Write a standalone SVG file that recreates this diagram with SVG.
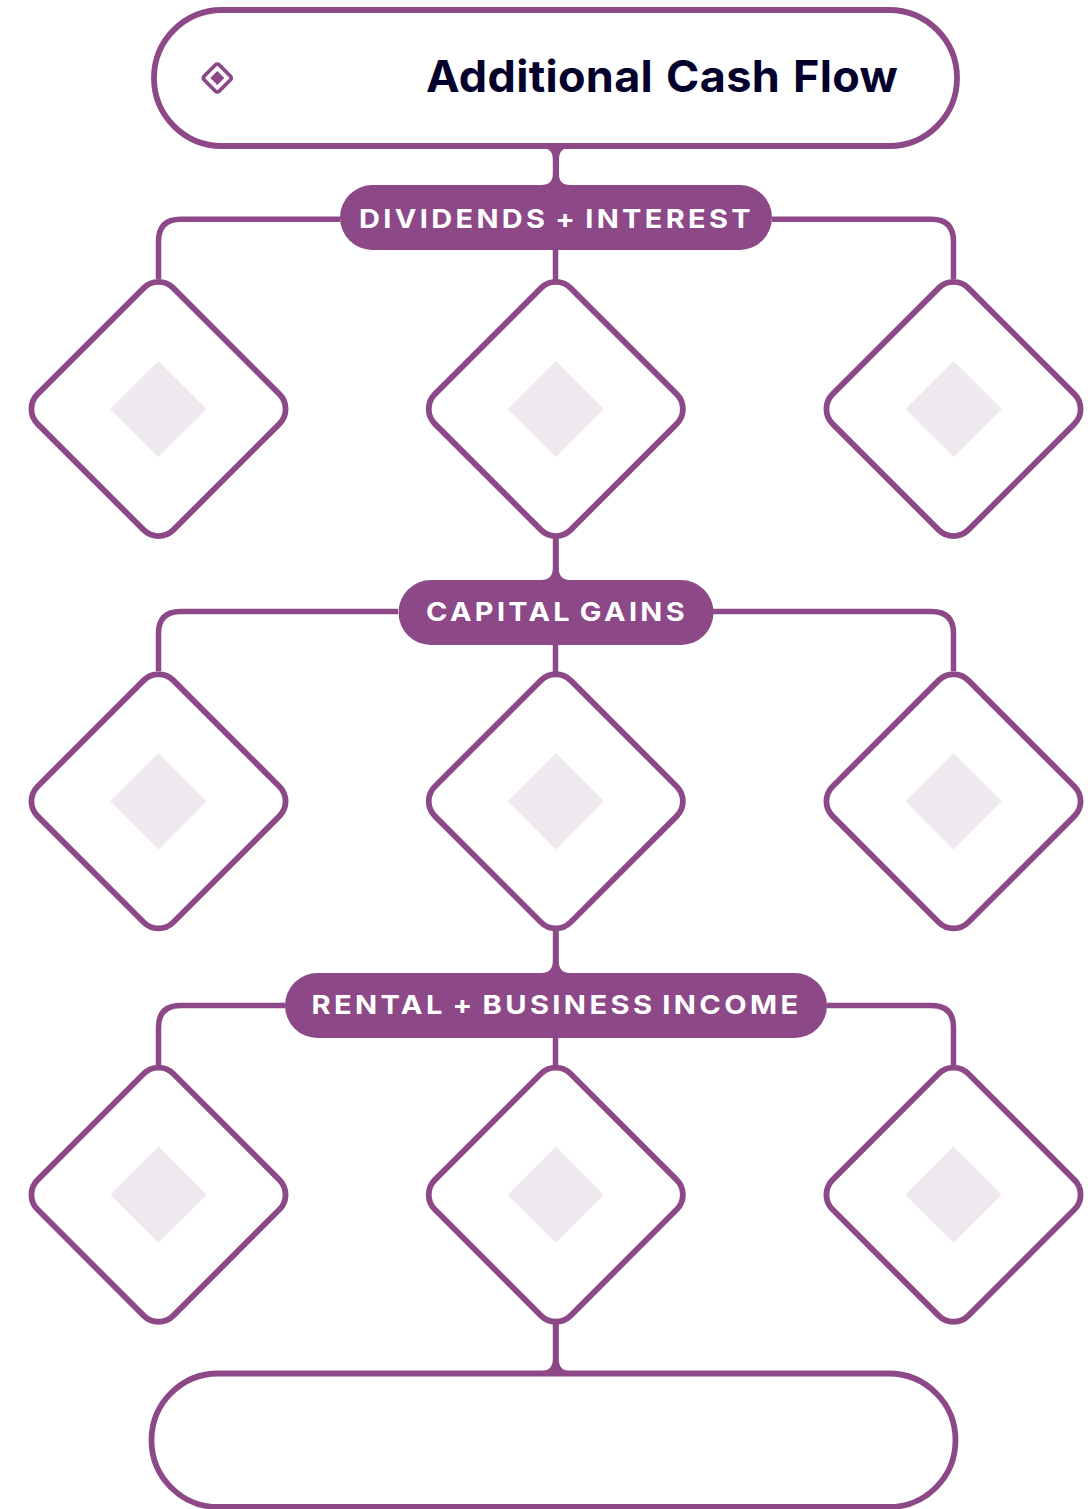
<svg xmlns="http://www.w3.org/2000/svg" width="1088" height="1509" viewBox="0 0 1088 1509">
<style>
.ln{fill:none;stroke:#8c4887;stroke-width:5.500}
.fl{fill:#8c4887}
.pill{fill:#fff;stroke:#8c4887;stroke-width:5.800}
.dia{fill:#fff;stroke:#8c4887;stroke-width:5.800}
.in{fill:#efe8ef}
.lb{font-family:Inter,"Liberation Sans",sans-serif;font-weight:700;font-size:26px;letter-spacing:3px;word-spacing:-3px;fill:#fff}
.ti{font-family:Inter,"Liberation Sans",sans-serif;font-weight:700;font-size:44px;letter-spacing:.3px;word-spacing:2px;fill:#03002b}
</style>
<defs>
<g id="d"><rect class="dia" x="-96" y="-96" width="192" height="192" rx="21" transform="rotate(45)"/><rect class="in" x="-34" y="-34" width="68" height="68" transform="rotate(45)"/></g>
</defs>
<rect width="1088" height="1509" fill="#fff"/>
<g id="connectors">
<path class="fl" d="M541 148H570Q559 148 559 159V174Q559 185 570 185H541Q552.800 185 552.800 174V159Q552.800 148 541 148Z"/>
<path class="ln" d="M158.500 279V241.500Q158.500 219.200 180.500 219.200H340M772 219.200H931.500Q953.500 219.200 953.500 241.500V279M555.500 250V280"/>
<path class="fl" d="M552.800 538H558.800V568Q558.800 580 570 580H541Q552.800 580 552.800 568Z"/>
<path class="ln" d="M158.500 671V633.500Q158.500 611.500 180.500 611.500H398M713 611.500H931.500Q953.500 611.500 953.500 633.500V671M555.500 645V672"/>
<path class="fl" d="M552.800 930H558.800V961Q558.800 973 570 973H541Q552.800 973 552.800 961Z"/>
<path class="ln" d="M158.500 1065V1027.500Q158.500 1005.500 180.500 1005.500H285M827 1005.500H931.500Q953.500 1005.500 953.500 1027.500V1065M555.500 1038V1066"/>
<path class="fl" d="M552.800 1323H558.800V1359Q558.800 1371 570 1371H541Q552.800 1371 552.800 1359Z"/>
</g>
<g id="start"><rect class="pill" x="154" y="10" width="803" height="136" rx="68"/>
<rect x="-10.600" y="-10.600" width="21.200" height="21.200" rx="2.500" fill="none" stroke="#8c4887" stroke-width="3.800" transform="translate(217.300 78) rotate(45)"/>
<path class="fl" d="M217.300 71L224.300 78L217.300 85L210.300 78Z"/>
<text class="ti" x="426" y="92.300" textLength="472" lengthAdjust="spacingAndGlyphs">Additional Cash Flow</text></g>
<g id="end"><rect class="pill" x="151.500" y="1373.500" width="804" height="133.500" rx="66.750"/></g>
<g id="label-1"><rect class="fl" x="340" y="185" width="432" height="65" rx="32.500"/><text class="lb" x="359" y="228" textLength="395" lengthAdjust="spacingAndGlyphs">DIVIDENDS + INTEREST</text></g>
<g id="label-2"><rect class="fl" x="398.500" y="580" width="315" height="65" rx="32.500"/><text class="lb" x="426" y="621" textLength="262" lengthAdjust="spacingAndGlyphs">CAPITAL GAINS</text></g>
<g id="label-3"><rect class="fl" x="285" y="973" width="542" height="65" rx="32.500"/><text class="lb" x="311.500" y="1014" textLength="490" lengthAdjust="spacingAndGlyphs">RENTAL + BUSINESS INCOME</text></g>
<g id="n1"><use href="#d" x="158.500" y="409"/></g>
<g id="n2"><use href="#d" x="555.800" y="409"/></g>
<g id="n3"><use href="#d" x="953.500" y="409"/></g>
<g id="n4"><use href="#d" x="158.500" y="801.300"/></g>
<g id="n5"><use href="#d" x="555.800" y="801.300"/></g>
<g id="n6"><use href="#d" x="953.500" y="801.300"/></g>
<g id="n7"><use href="#d" x="158.500" y="1194.700"/></g>
<g id="n8"><use href="#d" x="555.800" y="1194.700"/></g>
<g id="n9"><use href="#d" x="953.500" y="1194.700"/></g>
</svg>
